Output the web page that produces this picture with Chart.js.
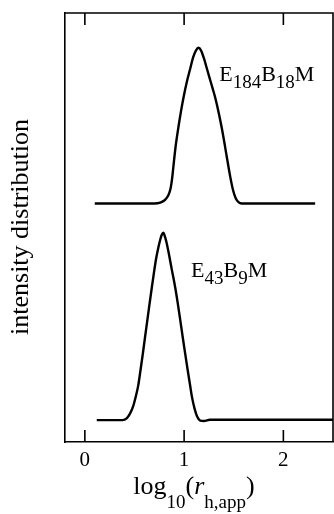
<!DOCTYPE html>
<html>
<head>
<meta charset="utf-8">
<script src="https://cdn.jsdelivr.net/npm/chart.js@4/dist/chart.umd.min.js"></script>
<style>
  html, body { margin: 0; padding: 0; background: #fff; }
  canvas { display: block; }
</style>
</head>
<body>
<canvas id="chart" width="334" height="514"></canvas>
<script>
// x = log10(r_h,app), y = intensity (arbitrary units, curves offset vertically)
var upperX = [0.10, 0.70, 0.76, 0.80, 0.83, 0.85, 0.866, 0.88, 0.892, 0.915, 0.942, 0.968, 0.993, 1.03, 1.06, 1.09, 1.12, 1.145, 1.17, 1.20, 1.23, 1.26, 1.29, 1.313, 1.35, 1.381, 1.41, 1.437, 1.465, 1.492, 1.52, 1.548, 1.58, 2.32];
var upperY = [55.6, 55.6, 55.8, 56.3, 57.1, 58.0, 59.4, 61.6, 64.2, 69.0, 73.3, 77.0, 80.2, 84.2, 86.9, 89.6, 91.3, 91.9, 91.3, 89.4, 87.0, 84.6, 82.2, 80.3, 76.6, 73.0, 69.2, 65.5, 61.8, 58.8, 56.8, 55.9, 55.6, 55.6];

var lowerX = [0.12, 0.38, 0.421, 0.455, 0.488, 0.51, 0.538, 0.56, 0.583, 0.605, 0.629, 0.65, 0.674, 0.70, 0.72, 0.74, 0.76, 0.775, 0.791, 0.805, 0.82, 0.841, 0.875, 0.909, 0.935, 0.960, 0.985, 1.010, 1.035, 1.061, 1.08, 1.104, 1.13, 1.162, 1.20, 1.26, 2.50];
var lowerY = [5.1, 5.1, 5.5, 6.6, 8.4, 10.3, 13.2, 16.6, 20.4, 24.2, 28.3, 31.9, 35.9, 40.1, 43.0, 45.3, 47.2, 48.3, 48.8, 48.0, 46.8, 44.5, 40.3, 36.2, 32.5, 28.6, 24.6, 20.7, 16.9, 13.1, 10.4, 7.9, 6.0, 5.0, 4.9, 5.2, 5.2];

var xTicks = [0, 1, 2];

// sample labels: [text, isSubscript]
var upperLabel = [["E", false], ["184", true], ["B", false], ["18", true], ["M", false]];
var lowerLabel = [["E", false], ["43", true], ["B", false], ["9", true], ["M", false]];
var upperLabelPos = [1.354, 84.1];
var lowerLabelPos = [1.07, 38.5];

var SERIF = "'Liberation Serif', 'DejaVu Serif', serif";

function toPoints(xs, ys) {
    return xs.map(function (x, i) { return { x: x, y: ys[i] }; });
}

function drawRuns(ctx, runs, x, y, size, subSize, drop) {
    runs.forEach(function (r) {
        var fs = r[1] ? subSize : size;
        var style = r[2] ? "italic " : "";
        ctx.font = style + fs + "px " + SERIF;
        ctx.fillText(r[0], x, r[1] ? y + drop : y);
        x += ctx.measureText(r[0]).width;
    });
    return x;
}

function runsWidth(ctx, runs, size, subSize) {
    var w = 0;
    runs.forEach(function (r) {
        var fs = r[1] ? subSize : size;
        ctx.font = (r[2] ? "italic " : "") + fs + "px " + SERIF;
        w += ctx.measureText(r[0]).width;
    });
    return w;
}

var decorPlugin = {
    id: 'decor',
    afterDraw: function (chart) {
        var ctx = chart.ctx;
        var area = chart.chartArea;
        var xs = chart.scales.x, ys = chart.scales.y;

        ctx.save();
        ctx.strokeStyle = '#000';
        ctx.lineWidth = 1.6;
        // top and right frame
        ctx.beginPath();
        ctx.moveTo(area.left, area.top);
        ctx.lineTo(area.right, area.top);
        ctx.lineTo(area.right, area.bottom);
        ctx.stroke();

        // inward ticks top and bottom
        xTicks.forEach(function (v) {
            var px = xs.getPixelForValue(v);
            ctx.beginPath();
            ctx.moveTo(px, area.bottom);
            ctx.lineTo(px, area.bottom - 12);
            ctx.moveTo(px, area.top);
            ctx.lineTo(px, area.top + 12);
            ctx.stroke();
        });

        ctx.fillStyle = '#000';
        ctx.textBaseline = 'alphabetic';
        ctx.textAlign = 'left';

        // curve labels
        drawRuns(ctx, upperLabel, xs.getPixelForValue(upperLabelPos[0]), ys.getPixelForValue(upperLabelPos[1]), 22, 19, 7);
        drawRuns(ctx, lowerLabel, xs.getPixelForValue(lowerLabelPos[0]), ys.getPixelForValue(lowerLabelPos[1]), 22, 19, 7);

        // x axis title: log10(r h,app)
        var title = [["log", false], ["10", true], ["(", false], ["r", false, true], ["h,app", true], [")", false]];
        var w = runsWidth(ctx, title, 26, 19);
        drawRuns(ctx, title, 194 - w / 2, 494, 26, 19, 14);

        // y axis title
        ctx.translate(28, 227);
        ctx.rotate(-Math.PI / 2);
        ctx.font = "26px " + SERIF;
        ctx.textAlign = 'center';
        ctx.fillText('intensity distribution', 0, 0);
        ctx.restore();
    }
};

new Chart(document.getElementById('chart'), {
    type: 'line',
    data: {
        datasets: [
            {
                data: toPoints(upperX, upperY),
                borderColor: '#000',
                borderWidth: 2.4,
                pointRadius: 0,
                cubicInterpolationMode: 'monotone',
                fill: false
            },
            {
                data: toPoints(lowerX, lowerY),
                borderColor: '#000',
                borderWidth: 2.4,
                pointRadius: 0,
                cubicInterpolationMode: 'monotone',
                fill: false
            }
        ]
    },
    options: {
        responsive: false,
        animation: false,
        devicePixelRatio: 1,
        layout: { padding: { top: 13, right: 1, left: 0, bottom: 0 } },
        plugins: {
            legend: { display: false },
            tooltip: { enabled: false }
        },
        scales: {
            x: {
                type: 'linear',
                min: -0.2,
                max: 2.5,
                grid: { display: false, drawTicks: false },
                border: { display: true, color: '#000', width: 1.6 },
                afterBuildTicks: function (scale) {
                    scale.ticks = xTicks.map(function (v) { return { value: v }; });
                },
                afterFit: function (scale) { scale.height = 72; },
                ticks: {
                    padding: 6,
                    color: '#000',
                    maxRotation: 0,
                    font: { family: SERIF, size: 21 }
                }
            },
            y: {
                type: 'linear',
                min: 0,
                max: 100,
                grid: { display: false, drawTicks: false },
                border: { display: true, color: '#000', width: 1.6 },
                ticks: { display: false },
                afterFit: function (scale) { scale.width = 65; }
            }
        }
    },
    plugins: [decorPlugin]
});
</script>
</body>
</html>
